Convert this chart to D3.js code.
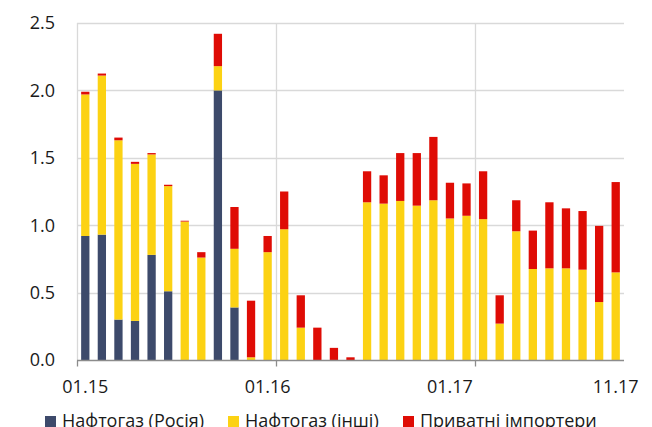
<!DOCTYPE html>
<html>
<head>
<meta charset="utf-8">
<script src="https://cdn.jsdelivr.net/npm/d3@7"></script>
<style>
  html, body { margin: 0; padding: 0; background: #fff; }
  svg { display: block; }
  text { font-family: "Open Sans", "Noto Sans", sans-serif; fill: #1a1a1a; }
</style>
</head>
<body>
<svg id="chart" width="652" height="427"></svg>
<script>
// Monthly gas imports, bcm: Naftogaz (Russia), Naftogaz (other), private importers
const naftogazRussia = [0.92, 0.93, 0.30, 0.29, 0.78, 0.51, 0, 0, 2.00, 0.39, 0,
  0, 0, 0, 0, 0, 0, 0, 0, 0, 0, 0,
  0, 0, 0, 0, 0, 0, 0, 0, 0, 0, 0];
const naftogazOther = [1.05, 1.18, 1.33, 1.165, 0.745, 0.78, 1.027, 0.76, 0.18, 0.435, 0.02,
  0.80, 0.97, 0.24, 0, 0, 0, 1.17, 1.16, 1.18, 1.145, 1.185,
  1.05, 1.07, 1.045, 0.27, 0.955, 0.675, 0.68, 0.68, 0.67, 0.43, 0.65];
const privateImporters = [0.02, 0.015, 0.02, 0.015, 0.01, 0.01, 0.006, 0.04, 0.24, 0.31, 0.42,
  0.12, 0.28, 0.24, 0.24, 0.09, 0.02, 0.23, 0.21, 0.355, 0.39, 0.47,
  0.265, 0.24, 0.355, 0.21, 0.23, 0.285, 0.49, 0.445, 0.435, 0.565, 0.67];

// Category positions that carry a label, and their text
const labelIndex = [0, 11, 22, 32];
const labelText = ["01.15", "01.16", "01.17", "11.17"];
// Vertical guide lines / tick marks fall every 12 categories
const guideIndex = [0, 12, 24];

const yTicks = [0, 0.5, 1.0, 1.5, 2.0, 2.5];

const seriesNames = ["Нафтогаз (Росія)", "Нафтогаз (інші)", "Приватні імпортери"];
const seriesKeys = ["russia", "other", "private"];
const colors = ["#3d4a6b", "#fcd213", "#df0c05"];

const rows = naftogazRussia.map((v, i) => ({
  idx: i, russia: v, other: naftogazOther[i], private: privateImporters[i]
}));

const svg = d3.select("#chart");
const margin = { left: 77, right: 28, top: 23, bottom: 67 };
const W = 652, H = 427;
const innerW = W - margin.left - margin.right;
const innerH = H - margin.top - margin.bottom;

const x = d3.scaleBand()
  .domain(rows.map(d => d.idx))
  .range([margin.left, margin.left + innerW])
  .paddingInner(0.5)
  .paddingOuter(0.25);

const y = d3.scaleLinear().domain([0, 2.5]).range([margin.top + innerH, margin.top]);

const step = x.step();
const catLeft = i => margin.left + i * step;

// horizontal grid
svg.append("g").selectAll("line").data(yTicks.filter(t => t > 0)).join("line")
  .attr("x1", margin.left).attr("x2", margin.left + innerW)
  .attr("y1", d => Math.round(y(d)) + 0.5).attr("y2", d => Math.round(y(d)) + 0.5)
  .attr("stroke", "#d9d9d9").attr("stroke-width", 1.3);

// vertical grid
svg.append("g").selectAll("line").data(guideIndex).join("line")
  .attr("x1", d => Math.round(catLeft(d)) + 0.5).attr("x2", d => Math.round(catLeft(d)) + 0.5)
  .attr("y1", margin.top).attr("y2", y(0))
  .attr("stroke", "#d9d9d9").attr("stroke-width", 1.3);

// stacked bars
const stack = d3.stack().keys(seriesKeys);
const stacked = stack(rows);
svg.append("g").selectAll("g").data(stacked).join("g")
  .attr("fill", (d, i) => colors[i])
  .selectAll("rect").data(d => d.filter(p => p[1] - p[0] > 0)).join("rect")
  .attr("x", d => x(d.data.idx))
  .attr("width", x.bandwidth())
  .attr("y", d => y(d[1]))
  .attr("height", d => y(d[0]) - y(d[1]));

// x axis line and tick marks
const x0 = Math.round(y(0)) + 0.5;
svg.append("line")
  .attr("x1", margin.left).attr("x2", margin.left + innerW)
  .attr("y1", x0).attr("y2", x0)
  .attr("stroke", "#8c8c8c").attr("stroke-width", 1.3);
svg.append("g").selectAll("line").data(guideIndex).join("line")
  .attr("x1", d => Math.round(catLeft(d)) + 0.5).attr("x2", d => Math.round(catLeft(d)) + 0.5)
  .attr("y1", x0).attr("y2", x0 + 6)
  .attr("stroke", "#8c8c8c").attr("stroke-width", 1.3);

// x labels
svg.append("g").selectAll("text").data(labelIndex).join("text")
  .attr("x", d => x(d) + x.bandwidth() / 2)
  .attr("y", 393)
  .attr("text-anchor", "middle")
  .attr("font-size", 18)
  .text((d, i) => labelText[i]);

// y labels
svg.append("g").selectAll("text").data(yTicks).join("text")
  .attr("x", 55)
  .attr("y", d => y(d))
  .attr("dy", "0.35em")
  .attr("text-anchor", "end")
  .attr("font-size", 18)
  .text(d => d.toFixed(1));

// legend
const legendX = [45, 228, 403];
const lg = svg.append("g").selectAll("g").data(seriesNames).join("g")
  .attr("transform", (d, i) => `translate(${legendX[i]},0)`);
lg.append("rect").attr("x", 0).attr("y", 416).attr("width", 11).attr("height", 11)
  .attr("fill", (d, i) => colors[i]);
lg.append("text").attr("x", 17).attr("y", 427).attr("font-size", 18).text(d => d);
</script>
</body>
</html>
